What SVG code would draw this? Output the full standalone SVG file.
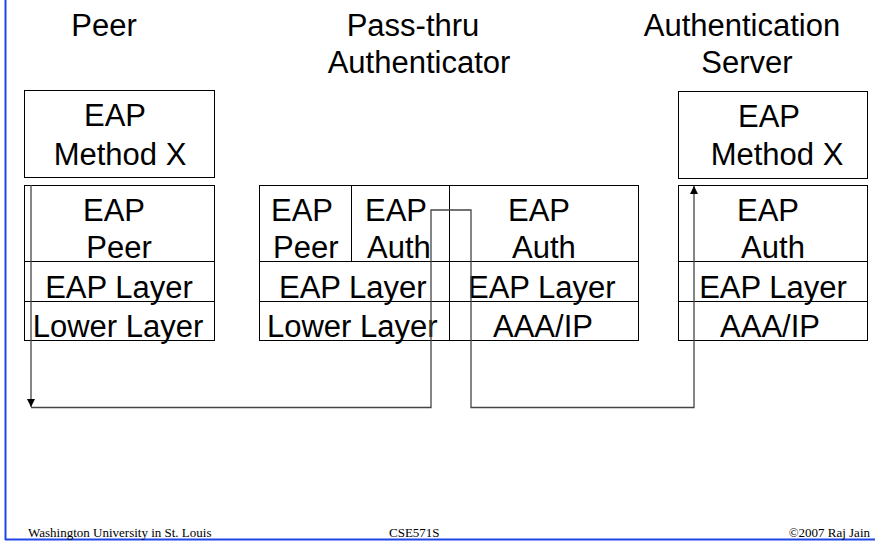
<svg xmlns="http://www.w3.org/2000/svg" width="875" height="542" viewBox="0 0 875 542">
<style>
  .t { font-family: "Liberation Sans", Arial, sans-serif; font-size: 31px; fill: #000; }
  .f { font-family: "Liberation Serif", "Times New Roman", serif; font-size: 13px; fill: #000; }
  .box { fill: #fff; stroke: #000; stroke-width: 1; }
  .ln { stroke: #000; stroke-width: 1; fill: none; }
  .conn { stroke: #444; stroke-width: 1.3; fill: none; }
  .mid { text-anchor: middle; }
</style>
<defs>
  <marker id="arr" viewBox="0 0 10 10" refX="10" refY="5" markerWidth="8" markerHeight="8" markerUnits="userSpaceOnUse" orient="auto">
    <path d="M0,0 L10,5 L0,10 Z" fill="#000"/>
  </marker>
</defs>
<rect width="875" height="542" fill="#fff"/>
<line x1="5.5" y1="0" x2="5.5" y2="540" stroke="#1f45e6" stroke-width="2"/>
<line x1="5" y1="539.5" x2="875" y2="539.5" stroke="#1f45e6" stroke-width="2"/>

<g id="titles">
  <text class="t mid" x="104" y="36">Peer</text>
  <text class="t mid" x="413" y="36">Pass-thru</text>
  <text class="t mid" x="419" y="73">Authenticator</text>
  <text class="t mid" x="742" y="36">Authentication</text>
  <text class="t mid" x="747" y="73">Server</text>
</g>

<g id="peer-method">
  <rect class="box" x="24.5" y="90.5" width="190" height="87"/>
  <text class="t mid" x="115" y="126">EAP</text>
  <text class="t mid" x="120" y="165">Method X</text>
</g>

<g id="peer-stack">
  <rect class="box" x="24.5" y="185.5" width="190" height="155"/>
  <line class="ln" x1="24.5" y1="261.5" x2="214.5" y2="261.5"/>
  <line class="ln" x1="24.5" y1="301.5" x2="214.5" y2="301.5"/>
  <text class="t mid" x="114" y="221">EAP</text>
  <text class="t mid" x="119" y="258">Peer</text>
  <text class="t mid" x="119" y="298">EAP Layer</text>
  <text class="t mid" x="118" y="337">Lower Layer</text>
</g>

<g id="auth-stack">
  <rect class="box" x="259.5" y="185.5" width="379" height="155"/>
  <line class="ln" x1="449.5" y1="185.5" x2="449.5" y2="340.5"/>
  <line class="ln" x1="351.5" y1="185.5" x2="351.5" y2="261.5"/>
  <line class="ln" x1="259.5" y1="261.5" x2="638.5" y2="261.5"/>
  <line class="ln" x1="259.5" y1="301.5" x2="638.5" y2="301.5"/>
  <text class="t" x="271" y="221">EAP</text>
  <text class="t" x="273" y="258">Peer</text>
  <text class="t" x="365" y="221">EAP</text>
  <text class="t" x="367" y="258">Auth</text>
  <text class="t" x="508" y="221">EAP</text>
  <text class="t" x="512" y="258">Auth</text>
  <text class="t" x="279" y="298">EAP Layer</text>
  <text class="t" x="468" y="298">EAP Layer</text>
  <text class="t" x="267" y="337">Lower Layer</text>
  <text class="t" x="493" y="337">AAA/IP</text>
</g>

<g id="server-method">
  <rect class="box" x="678.5" y="91.5" width="189" height="87"/>
  <text class="t mid" x="769" y="127">EAP</text>
  <text class="t mid" x="777" y="165">Method X</text>
</g>

<g id="server-stack">
  <rect class="box" x="678.5" y="185.5" width="189" height="155"/>
  <line class="ln" x1="678.5" y1="261.5" x2="867.5" y2="261.5"/>
  <line class="ln" x1="678.5" y1="301.5" x2="867.5" y2="301.5"/>
  <text class="t mid" x="768" y="221">EAP</text>
  <text class="t mid" x="773" y="258">Auth</text>
  <text class="t mid" x="773" y="298">EAP Layer</text>
  <text class="t mid" x="770" y="337">AAA/IP</text>
</g>

<g id="connectors">
  <line class="conn" x1="31" y1="185" x2="31" y2="407" marker-end="url(#arr)"/>
  <polyline class="conn" points="31,407.5 431,407.5 431,210 471,210 471,407.5 694,407.5 694,186" marker-end="url(#arr)"/>
</g>

<g id="footer">
  <text class="f" x="28" y="537">Washington University in St. Louis</text>
  <text class="f" x="389" y="537">CSE571S</text>
  <text class="f" x="870" y="537" text-anchor="end">©2007 Raj Jain</text>
</g>
</svg>
